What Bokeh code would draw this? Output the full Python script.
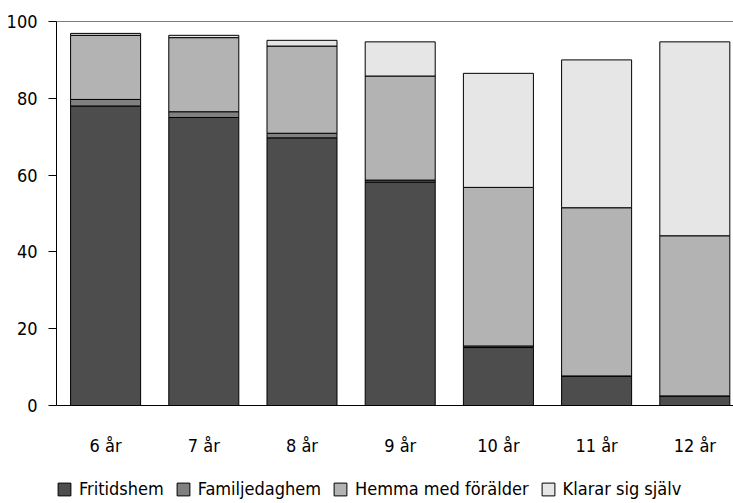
from bokeh.plotting import figure
from bokeh.models import FixedTicker, Legend, Span
from bokeh.layouts import column
from bokeh.embed import file_html
from bokeh.resources import INLINE

categories = ["6 år", "7 år", "8 år", "9 år", "10 år", "11 år", "12 år"]
series = ["Fritidshem", "Familjedaghem", "Hemma med förälder", "Klarar sig själv"]
fritidshem = [78.0, 75.0, 69.7, 58.2, 15.1, 7.7, 2.5]
familjedaghem = [1.7, 1.5, 1.2, 0.5, 0.4, 0.0, 0.0]
hemma = [16.7, 19.3, 22.7, 27.1, 41.3, 43.8, 41.7]
klarar = [0.5, 0.6, 1.5, 8.9, 29.7, 38.5, 50.5]
y_ticks = [0, 20, 40, 60, 80, 100]
colors = ["#4d4d4d", "#808080", "#b3b3b3", "#e6e6e6"]

FONT = "DejaVu Sans Condensed"
FS = "18px"

xs = list(range(len(categories)))
data = dict(x=xs)
data[series[0]] = fritidshem
data[series[1]] = familjedaghem
data[series[2]] = hemma
data[series[3]] = klarar

p = figure(width=733, height=468, output_backend="svg", toolbar_location=None,
           x_range=(-0.5, 6.394), y_range=(0, 100),
           min_border_left=56, min_border_right=0, min_border_top=21, min_border_bottom=63)

p.vbar_stack(series, x="x", width=0.713, source=data, color=colors,
             line_color="black", line_width=1)

p.xgrid.visible = False
p.ygrid.visible = False
p.outline_line_color = None
p.background_fill_color = "white"
p.border_fill_color = "white"

# y axis
p.yaxis.ticker = FixedTicker(ticks=y_ticks)
p.yaxis.minor_tick_line_color = None
p.yaxis.major_tick_out = 8
p.yaxis.major_tick_in = 0
p.yaxis.axis_line_color = "black"
p.yaxis.major_tick_line_color = "black"
p.yaxis.major_label_text_font = FONT
p.yaxis.major_label_text_font_size = FS
p.yaxis.major_label_text_color = "black"
p.yaxis.major_label_standoff = 11

# x axis
p.xaxis.ticker = FixedTicker(ticks=xs)
p.xaxis.major_label_overrides = {i: c for i, c in enumerate(categories)}
p.xaxis.major_tick_line_color = None
p.xaxis.minor_tick_line_color = None
p.xaxis.axis_line_color = "black"
p.xaxis.major_label_text_font = FONT
p.xaxis.major_label_text_font_size = FS
p.xaxis.major_label_text_color = "black"
p.xaxis.major_label_standoff = 23

# top line of the frame
p.add_layout(Span(location=100, dimension="width", line_color="black", line_width=1))

# legend strip below the chart (its renderers are hidden; only the legend shows)
lg = figure(width=733, height=35, output_backend="svg", toolbar_location=None,
            x_range=(-0.5, 6.394), y_range=(0, 100),
            x_axis_location=None, y_axis_location=None,
            min_border_left=0, min_border_right=0, min_border_top=0, min_border_bottom=0)
lg.grid.visible = False
lg.outline_line_color = None
lg.border_fill_color = "white"
lg.background_fill_color = "white"
swatches = lg.vbar_stack(series, x="x", width=0.713, source=data, color=colors,
                         line_color="black", line_width=1)
for r in swatches:
    r.visible = False
legend = Legend(items=[(s, [r]) for s, r in zip(series, swatches)],
                orientation="horizontal", location=(0, 4),
                label_text_font=FONT, label_text_font_size=FS,
                label_text_color="black", glyph_width=16, glyph_height=16,
                label_standoff=7, spacing=11, padding=0, margin=0,
                inactive_fill_alpha=0, click_policy="none",
                border_line_color=None, background_fill_alpha=0)
lg.add_layout(legend, "center")

layout = column(p, lg, spacing=0)
open("out.html", "w").write(file_html(layout, INLINE))
